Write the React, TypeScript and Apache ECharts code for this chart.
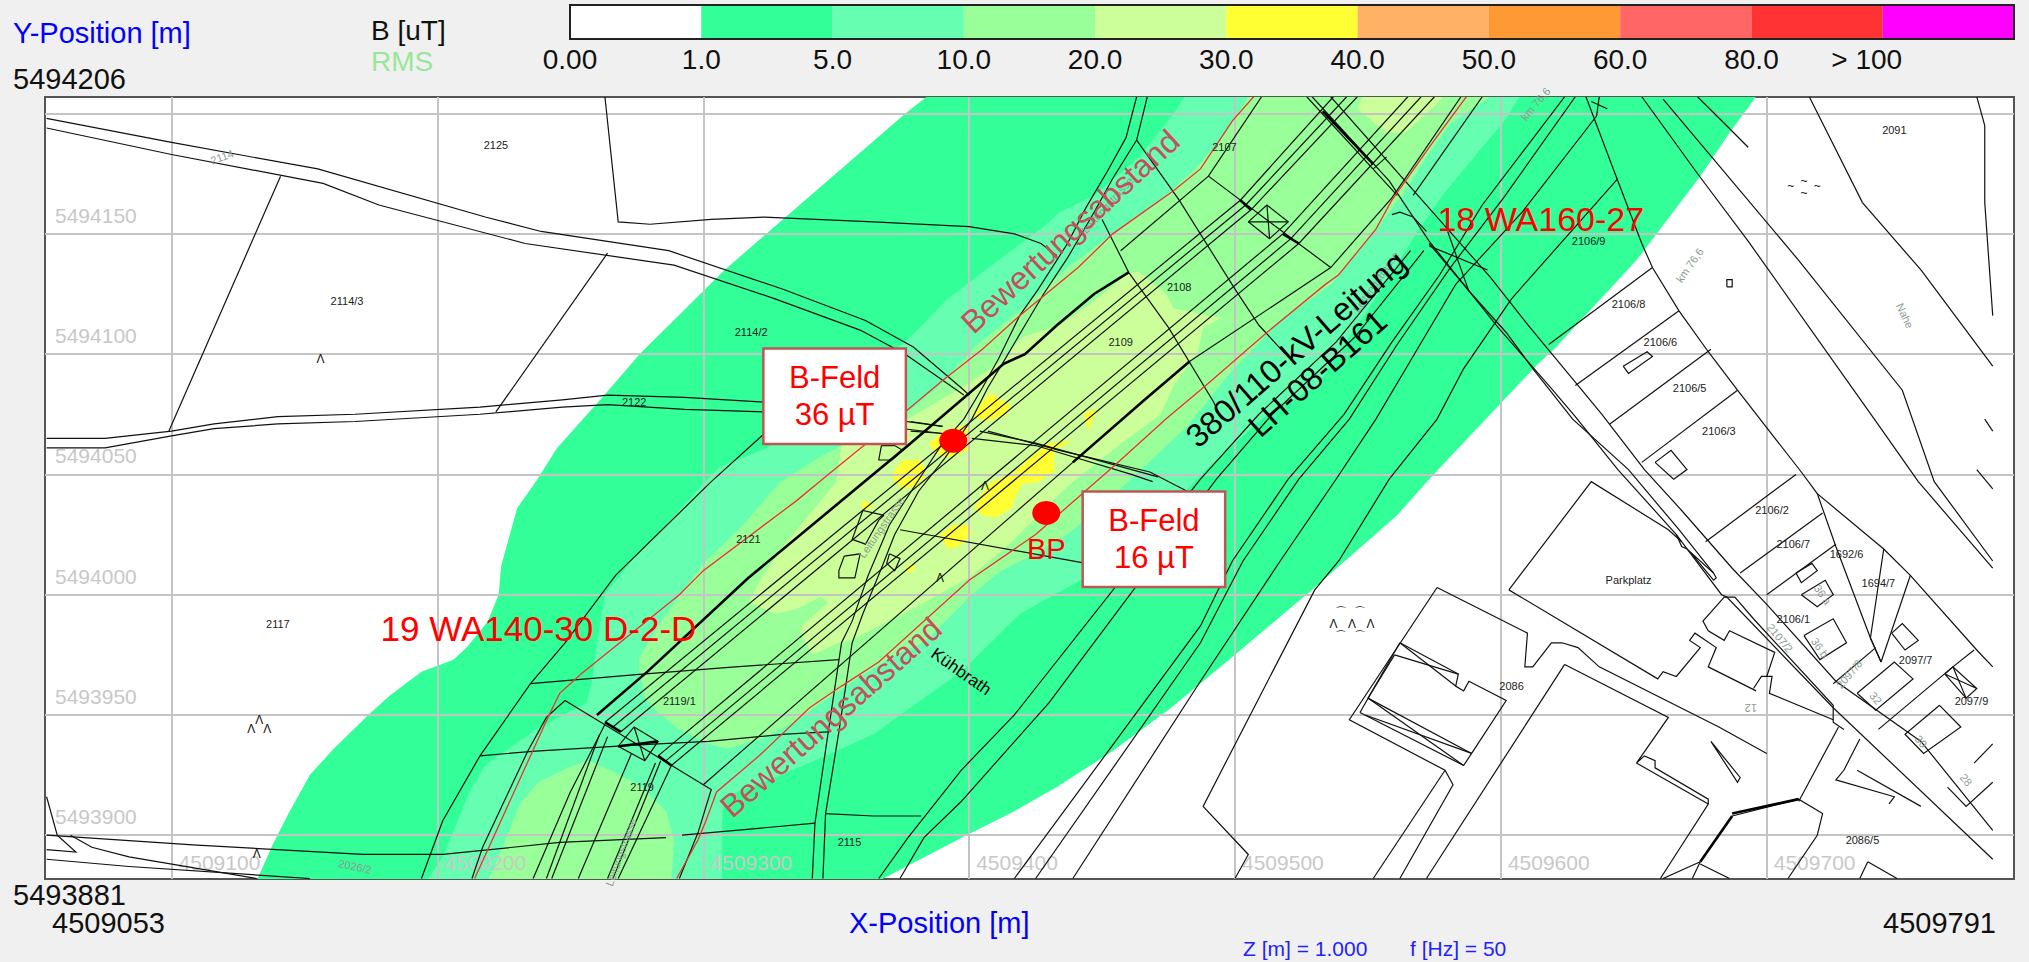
import React, { useEffect, useRef } from "react";
import * as echarts from "echarts";

type P = [number, number];
const FONT = "'Liberation Sans', Arial, sans-serif";
// All map coordinates are metres east of xBase / north of yBase.
const xBase = 4509000;
const yBase = 5493800;
const xMin = 4509052.4;
const xMax = 4509793;
const yMin = 5493881.8;
const yMax = 5494206.9;
const xGridValues = [4509100, 4509200, 4509300, 4509400, 4509500, 4509600, 4509700];
const yGridValues = [5493900, 5493950, 5494000, 5494050, 5494100, 5494150, 5494200];
const yLabelValues = [5493900, 5493950, 5494000, 5494050, 5494100, 5494150];

const legendLabels = ["0.00", "1.0", "5.0", "10.0", "20.0", "30.0", "40.0", "50.0", "60.0", "80.0", "> 100"];
const legendColors = ["#ffffff", "#33ff99", "#66ffb2", "#99ff99", "#ccff99", "#ffff33", "#ffb266", "#ff9933", "#ff6666", "#ff3333", "#ff00ff"];

const band1: P[][] = [[
  [384, 407], [376, 400], [331, 357], [308, 335], [276, 300], [262, 282], [245, 261], [237, 247], [230, 236], [224, 212], [223, 200], [219, 189], [211, 178], [206, 173], [194, 168], [182, 158], [174, 150], [161, 136], [152, 125], [144, 109], [138, 96], [132, 81],
  [366, 81], [399, 100], [417, 110], [433, 120], [454, 135], [476, 153], [500, 175], [530, 203], [561, 233], [573, 248], [614, 296], [620, 302], [651, 339], [675, 374], [686, 392], [696, 407],
]];
const band5: P[][] = [[
  [481, 407], [477, 400], [464, 382], [447, 366], [434, 359], [428, 353], [417, 344], [405, 334], [392, 323], [376, 305], [350, 285], [324, 261], [306, 253], [300, 246], [286, 229], [273, 214], [263, 200], [260, 180], [258, 163], [256, 155], [237, 144], [218, 129], [212, 118], [208, 107], [202, 91], [196, 81],
  [307, 81], [307, 105], [308, 116], [327, 124], [346, 133], [364, 142], [383, 157], [397, 168], [419, 192], [442, 206], [470, 230], [490, 253], [510, 273], [531, 287], [546, 312], [558, 332], [568, 350], [578, 366], [593, 386], [602, 398], [607, 407],
]];
const band10: P[][] = [
  [[505, 407], [496, 391], [485, 377], [474, 366], [454, 350], [437, 336], [421, 320], [403, 304], [389, 287], [377, 276], [345, 258], [329, 247], [315, 229], [300, 213], [286, 192], [276, 174], [276, 169], [278, 157], [283, 151], [291, 144], [302, 138], [309, 136], [322, 140], [334, 147], [343, 154], [359, 166], [374, 176], [383, 180], [400, 199], [412, 210], [425, 217], [437, 225], [456, 243], [482, 270], [498, 292], [517, 314], [536, 329], [539, 333], [563, 366], [572, 382], [581, 396], [596, 407]],
  [[219, 81], [226, 99], [231, 113], [238, 122], [249, 128], [257, 131], [267, 126], [277, 120], [286, 110], [289, 98], [288, 81]],
];
const band20: P[][] = [
  [[377, 273], [352, 262], [350, 247], [330, 220], [322, 207], [317, 197], [327, 192], [335, 194], [344, 199], [347, 197], [337, 187], [337, 183], [341, 175], [351, 180], [355, 181], [375, 192], [400, 207], [415, 221], [437, 245], [455, 261], [472, 275], [477, 287], [486, 301], [488, 311], [495, 315], [491, 316], [477, 319], [474, 325], [464, 334], [460, 334], [447, 322], [434, 312], [420, 307], [411, 296], [397, 286]],
  [[548, 407], [546, 402], [557, 392], [564, 392], [576, 404], [578, 407]],
];
const band30: P[][] = [
  [[385, 263], [390, 268], [400, 271], [400, 260], [392, 257], [387, 259]],
  [[401, 275], [408, 284], [415, 279], [416, 280], [414, 275], [407, 272], [402, 274]],
  [[371, 250], [375, 256], [382, 256], [384, 250], [380, 245], [375, 244], [372, 247]],
  [[402, 236], [407, 246], [417, 251], [424, 258], [430, 263], [439, 264], [432, 260], [432, 251], [426, 247], [420, 246], [417, 240], [416, 236], [410, 232], [405, 233]],
  [[389, 225], [394, 229], [400, 229], [401, 225], [396, 220], [392, 219]],
  [[359, 238], [361, 239], [364, 237], [361, 235]],
  [[443, 275], [446, 277], [448, 276], [446, 272], [445, 268], [444, 271]],
  [[376, 211], [378, 213], [380, 211], [377, 209]],
];

const redLines: P[][] = [
  [[507, 407], [499, 397], [487, 377], [477, 368], [454, 350], [441, 336], [419, 316], [405, 302], [390, 289], [377, 277], [347, 250], [335, 239], [300, 210], [291, 200], [254, 167], [246, 159], [242, 150], [214, 82]],
  [[587, 407], [573, 386], [559, 364], [553, 352], [539, 333], [534, 329], [512, 309], [489, 287], [474, 273], [455, 254], [425, 225], [400, 206], [366, 172], [352, 162], [340, 153], [321, 133], [305, 118], [301, 106], [298, 98], [290, 82]],
];

const thickLines: P[][] = [
  [[460, 334], [447, 325], [433, 312], [421, 300], [413, 296], [377, 262], [317, 207], [279, 168], [260, 150]],
  [[483, 297], [466, 281], [439, 255]],
  [[533, 401], [552, 379]],
  [[502, 364], [506, 360]], [[518, 350], [524, 346]],
  [[263, 147], [269, 143]], [[283, 133], [288, 129]],
  [[268, 137], [276, 138], [283, 139]],
  [[687, 109], [712, 115]],
  [[687, 108], [675, 89]],
];

const conductorLines: P[][] = [
  [[263, 147], [502, 364], [537, 407]],
  [[266, 145], [504, 362], [542, 407]],
  [[269, 143], [506, 360], [546, 407]],
  [[283, 133], [518, 350], [565, 407]],
  [[286, 131], [521, 348], [570, 407]],
  [[288, 129], [524, 346], [575, 407]],
  [[300, 121], [439, 255]],
  [[483, 297], [536, 336], [559, 365], [585, 407]],
  [[567, 366], [593, 407]],
  [[457, 343], [490, 374], [510, 407]],
  [[536, 336], [490, 374]],
  [[248, 156], [300, 121], [303, 119], [298, 101], [291, 82]],
  [[505, 355], [512, 362], [520, 355], [513, 348], [505, 355]],
  [[512, 362], [513, 348]], [[505, 355], [520, 355]],
  [[274, 145], [283, 139], [278, 131], [268, 137], [274, 145]],
  [[274, 145], [278, 131]],
  [[261, 142], [241, 82]], [[264, 141], [243, 82]], [[263, 146], [250, 118], [236, 82]],
  [[273, 134], [253, 82]], [[282, 130], [264, 82]], [[284, 131], [266, 82]], [[288, 129], [268, 82]],
];

const roadLines: P[][] = [
  [[53, 398], [100, 388], [155, 377], [218, 357], [239, 351], [287, 343], [330, 327], [361, 314], [379, 303], [397, 286], [400, 283]],
  [[53, 394], [100, 383], [157, 371], [178, 362], [233, 346], [289, 337], [327, 323], [359, 310], [376, 300], [398, 283]],
  [[263, 407], [268, 355], [280, 354], [303, 356], [323, 357], [364, 355], [400, 353], [417, 350], [427, 346], [433, 341]],
  [[463, 407], [459, 390], [452, 376], [444, 361], [437, 346], [426, 327], [419, 316], [411, 298], [405, 286], [398, 273], [390, 263], [380, 246], [370, 229], [362, 208], [356, 189], [352, 180], [347, 143], [342, 105], [341, 82]],
  [[467, 407], [463, 389], [454, 373], [447, 359], [437, 340], [428, 325], [421, 312], [413, 297], [407, 286], [401, 273], [391, 257], [381, 243], [372, 225], [367, 211], [360, 192], [356, 180], [351, 143], [346, 109], [345, 82]],
  [[463, 389], [479, 364], [500, 327], [509, 312], [519, 300]],
  [[450, 356], [460, 334], [475, 311], [492, 280], [495, 273]],
  [[53, 265], [75, 265], [100, 268], [116, 271], [140, 274], [169, 275], [216, 278], [247, 281], [264, 283], [293, 282], [323, 280], [390, 270]],
  [[53, 261], [75, 261], [100, 266], [116, 269], [140, 271], [169, 272], [216, 275], [247, 278], [264, 279], [293, 277], [323, 276], [390, 267]],
  [[141, 374], [99, 268]], [[264, 342], [222, 276]],
  [[235, 163], [277, 167], [312, 170], [351, 173]],
  [[216, 133], [237, 135], [268, 137], [283, 138], [302, 139], [331, 142], [347, 143]],
  [[53, 100], [108, 96], [172, 92], [194, 92], [202, 92], [246, 97], [286, 99]],
  [[292, 100], [342, 105]],
  [[346, 109], [364, 108], [382, 108]],
  [[248, 180], [235, 163], [216, 133], [202, 106], [194, 82]],
  [[323, 267], [303, 247], [267, 208], [248, 180]],
  [[248, 156], [241, 149], [234, 135], [217, 95], [213, 82]],
  [[374, 227], [444, 213]],
  [[368, 233], [360, 235], [356, 223], [361, 221], [366, 231], [368, 233]],
  [[353, 216], [359, 217], [357, 207], [351, 207], [351, 210], [353, 216]],
  [[370, 217], [374, 215], [372, 210], [369, 213], [370, 217]],
  [[367, 262], [372, 262], [375, 260], [371, 256], [366, 256], [367, 262]],
  [[404, 268], [425, 263], [471, 249]],
  [[407, 268], [434, 260], [468, 251], [482, 243]],
  [[401, 265], [425, 262], [461, 250], [469, 247]],
  [[378, 272], [390, 270]], [[378, 268], [390, 267]],
  [[53, 116], [57, 100], [64, 93], [53, 94]],
  [[62, 100], [70, 95], [84, 91], [132, 82]],
  [[53, 90], [84, 87], [152, 82]],
  [[536, 407], [576, 357], [596, 332], [611, 311], [629, 287], [638, 275], [654, 252], [668, 235], [687, 211], [700, 196], [726, 164], [758, 139], [785, 102]],
  [[529, 407], [558, 372], [573, 347], [599, 311], [618, 287], [628, 274], [644, 252], [666, 225], [683, 200], [685, 199], [725, 153], [785, 90]],
  [[573, 346], [589, 325], [602, 309], [612, 294], [627, 273], [648, 252], [667, 227], [680, 209]],
  [[666, 225], [668, 220], [670, 219], [680, 209], [681, 207], [680, 206], [671, 218]],
  [[527, 407], [561, 366]],
  [[573, 345], [595, 335]], [[580, 351], [588, 326]],
  [[559, 358], [562, 359], [567, 357], [572, 351]],
  [[552, 377], [557, 382]],
  [[636, 399], [608, 359], [583, 329], [568, 301], [553, 273], [538, 248], [517, 214], [487, 164], [439, 82]],
  [[628, 407], [601, 365], [581, 336], [561, 304], [543, 273], [524, 248], [503, 214], [487, 180], [425, 82]],
  [[624, 407], [593, 362], [577, 333], [559, 305], [541, 275], [520, 248], [499, 214], [487, 187], [417, 82]],
  [[644, 373], [604, 323], [586, 294], [576, 273], [558, 248], [539, 214], [530, 202], [488, 112], [505, 92], [500, 82]],
  [[566, 343], [538, 305], [509, 275], [487, 248], [417, 150], [397, 127], [377, 99], [366, 82]],
  [[571, 343], [545, 307], [514, 275], [493, 248], [430, 155], [397, 114], [383, 99], [374, 82]],
  [[632, 407], [644, 372], [653, 346], [657, 336], [667, 318], [678, 301], [689, 285], [713, 251], [719, 242], [726, 220], [739, 182], [743, 172]],
  [[719, 242], [744, 219], [754, 208], [779, 177], [785, 170]],
  [[744, 219], [739, 182]], [[754, 208], [743, 172]], [[739, 182], [743, 172]],
  [[637, 407], [636, 399]], [[634, 405], [640, 402]],
  [[618, 304], [657, 336]], [[628, 287], [667, 318]], [[641, 271], [679, 302]], [[653, 255], [689, 285]],
  [[646, 295], [655, 301], [657, 299], [648, 292], [646, 295]],
  [[685, 328], [687, 328], [687, 331], [685, 331], [685, 328]],
  [[658, 255], [664, 260], [670, 252], [665, 248], [658, 255]],
  [[653, 407], [674, 375], [693, 347], [743, 269], [757, 247], [785, 211]],
  [[661, 406], [712, 339], [751, 285], [763, 247], [785, 214]],
  [[779, 252], [785, 244]],
  [[684, 396], [693, 386]], [[674, 407], [684, 396]],
  [[716, 407], [736, 363], [758, 335], [785, 295]],
  [[779, 407], [782, 395], [782, 363], [785, 316]],
  [[782, 273], [785, 268]],
  [[677, 222], [711, 250]], [[690, 209], [721, 234]], [[700, 200], [726, 221]],
  [[725, 163], [741, 178]],
  [[778, 177], [770, 170], [742, 144]],
  [[711, 209], [717, 213], [719, 210], [713, 205], [711, 209]],
  [[713, 200], [722, 206], [725, 200], [719, 195], [713, 200]],
  [[714, 183], [725, 190], [730, 180], [720, 173], [714, 183]],
  [[747, 184], [751, 188], [757, 181], [752, 177], [747, 184]],
  [[734, 159], [748, 172], [755, 165], [741, 152], [734, 159]],
  [[767, 167], [770, 170], [779, 161], [775, 157], [767, 167], [779, 161]],
  [[770, 170], [775, 157]],
  [[603, 202], [634, 247], [663, 227], [668, 222]],
  [[603, 202], [659, 165], [661, 168], [666, 166], [675, 178], [671, 181], [673, 184], [681, 178], [678, 170], [696, 160]],
  [[576, 203], [610, 184], [609, 170], [612, 170], [619, 180], [623, 180], [629, 178], [637, 170], [682, 145], [700, 134]],
  [[576, 203], [543, 148], [579, 127], [582, 121], [562, 82]],
  [[579, 127], [552, 82]],
  [[562, 180], [584, 167], [583, 162], [586, 160], [588, 164], [602, 156], [589, 134], [586, 129]],
  [[562, 180], [583, 162]], [[560, 175], [584, 167]],
  [[550, 157], [589, 134]], [[547, 151], [586, 129]], [[550, 157], [586, 129]], [[549, 150], [589, 134]],
  [[562, 180], [547, 151]], [[560, 175], [550, 157]],
  [[624, 171], [663, 149], [651, 130], [654, 133], [658, 131], [658, 128], [678, 115], [678, 113], [660, 82]],
  [[651, 130], [678, 113]],
  [[624, 171], [572, 82]],
  [[679, 139], [690, 124], [689, 122], [679, 139]],
  [[687, 108], [712, 115], [721, 109], [719, 100], [708, 82]],
  [[675, 89], [661, 82]], [[675, 88], [686, 82]], [[672, 82], [675, 89]],
  [[712, 114], [727, 145]],
  [[684, 199], [688, 199], [695, 190], [725, 154], [725, 147], [729, 144]],
  [[684, 199], [676, 189], [678, 185], [684, 181], [686, 185], [703, 176], [700, 166]],
  [[695, 161], [698, 166], [702, 166], [701, 159], [725, 148]],
  [[735, 140], [729, 127], [726, 123], [748, 116], [746, 113]],
  [[734, 127], [758, 112]],
  [[765, 154], [773, 145], [759, 134], [752, 142], [765, 154]],
  [[778, 130], [785, 138]], [[768, 120], [775, 112], [785, 122]],
  [[738, 89], [749, 82]], [[738, 89], [735, 82]],
];

const parcelLabels: [string, number, number][] = [
  ["2125", 222, 387], ["2114/3", 166, 322], ["2114/2", 318, 309], ["2122", 274, 280], ["2107", 496, 386], ["2108", 479, 328], ["2109", 457, 305],
  ["2106/9", 633, 347], ["2106/8", 648, 321], ["2106/6", 660, 305], ["2106/5", 671, 286], ["2106/3", 682, 268], ["2091", 748, 393], ["2106/2", 702, 235],
  ["2106/7", 710, 221], ["1692/6", 730, 217], ["1694/7", 742, 205], ["2106/1", 710, 190], ["Parkplatz", 648, 206], ["2097/7", 756, 173], ["2097/9", 777, 156],
  ["2086", 604, 162], ["2086/5", 736, 98], ["2117", 140, 188], ["2121", 317, 223], ["2119/1", 291, 156], ["2119", 277, 120], ["2115", 355, 97],
];
const greyLabels: [string, number, number, number][] = [
  ["2107/2", 705, 182, -50], ["36 b", 720, 178, -55], ["36 a", 721, 200, -55], ["32", 741, 157, -50], ["2097/8", 731, 167, 50], ["30", 758, 139, -50], ["28", 775, 123, -50], ["12", 694, 153, 180],
  ["km 76,6", 671, 337, 55], ["km 76,6", 613, 404, 50], ["Nahe", 752, 316, -65], ["2026/2", 169, 87, -12], ["2114", 119, 382, 20], ["Leitungstrasse", 452, 362, 48], ["Leitungstrasse", 553, 330, 55], ["Leitungstrasse", 367, 228, 55], ["Leitungstrasse", 269, 93, 70],
];
const terrainMarks: [string, number, number][] = [
  ["Λ", 156, 298], ["Λ", 133, 148], ["Λ", 130, 144], ["Λ", 136, 144], ["Λ", 132, 92], ["Λ", 389, 207], ["Λ", 406, 245], ["Λ", 537, 188], ["Λ", 544, 188], ["Λ", 551, 188],
  ["⌒", 540, 193], ["⌒", 547, 193], ["⌒", 540, 183], ["⌒", 547, 183], ["~", 714, 372], ["~", 709, 370], ["~", 719, 370], ["~", 714, 367],
];
const annotationLabels: [string, number, number, number, string, number][] = [
  ["Bewertungsabstand", 438, 351, 42.5, "#c4505a", 32],
  ["Bewertungsabstand", 348, 149, 41.5, "#c4505a", 32],
  ["380/110-kV-Leitung", 523, 302, 41, "#000000", 32.5],
  ["LH-08-B161", 531, 292, 41.5, "#000000", 32],
  ["18 WA160-27", 615, 356, 0, "#ff0000", 34],
  ["19 WA140-30 D-2-D", 238, 186, 0, "#ff0000", 35],
  ["BP", 429, 219, 0, "#ff0000", 29],
  ["Kühbrath", 397, 168, -35, "#000000", 17],
];
const measurePoints: P[] = [[394, 264], [429, 234]];
const callouts: [string, number, number][] = [["B-Feld\n36 µT", 349.4, 282.5], ["B-Feld\n16 µT", 469.5, 223]];

const toData = (q: P): P => [xBase + q[0], yBase + q[1]];

const polygonSeries = (name: string, polys: P[][], color: string, z: number) => ({
  type: "custom", name, coordinateSystem: "cartesian2d", xAxisIndex: 0, yAxisIndex: 0, clip: true, silent: true, z,
  data: polys.map((poly) => toData(poly[0])),
  renderItem: (params: any, api: any) => ({
    type: "polygon",
    shape: { points: polys[params.dataIndex].map((q) => api.coord(toData(q))) },
    style: { fill: color },
  }),
});
const lineSeries = (name: string, lines: P[][], color: string, width: number, z: number) => ({
  type: "custom", name, coordinateSystem: "cartesian2d", xAxisIndex: 0, yAxisIndex: 0, clip: true, silent: true, z,
  data: lines.map((line) => toData(line[0])),
  renderItem: (params: any, api: any) => ({
    type: "polyline",
    shape: { points: lines[params.dataIndex].map((q) => api.coord(toData(q))) },
    style: { stroke: color, lineWidth: width, fill: "none" },
  }),
});
const labelSeries = (name: string, data: any[], z: number) => ({
  type: "scatter", name, xAxisIndex: 0, yAxisIndex: 0, symbolSize: 0, silent: true, z, data,
  itemStyle: { opacity: 1 },
  label: { show: true, position: "inside", fontFamily: FONT, textBorderWidth: 0 },
});
const topText = (text: string, x: number, y: number, size: number, fill: string, align = "left") => ({
  type: "text", x, y, silent: true,
  style: { text, fontSize: size, fontFamily: FONT, fill, align, verticalAlign: "middle" },
});

export default function App() {
  const ref = useRef<HTMLDivElement>(null);
  useEffect(() => {
    const chart = echarts.init(ref.current!, undefined, { renderer: "svg" });
    const axisLabel = { show: true, inside: true, color: "#c8c8c8", fontSize: 21, fontFamily: FONT };
    const splitLine = { show: true, lineStyle: { color: "#c4c4c4", width: 2 } };
    chart.setOption({
      animation: false,
      backgroundColor: "#f0f0f0",
      grid: [
        { left: 45, top: 97, width: 1969, height: 782, show: true, backgroundColor: "#ffffff", borderColor: "#555555", borderWidth: 2 },
        { left: 570, top: 5, width: 1444, height: 34, show: true, borderColor: "#222222", borderWidth: 2, z: 5 },
      ],
      xAxis: [
        {
          type: "value", gridIndex: 0, min: xMin, max: xMax, z: 1,
          axisLine: { show: false },
          axisTick: { show: false, customValues: xGridValues },
          axisLabel: { ...axisLabel, customValues: xGridValues, margin: 6, align: "left", verticalAlign: "bottom", padding: [0, 0, 0, 7], formatter: (v: number) => String(v) },
          splitLine,
        },
        {
          type: "value", gridIndex: 1, min: 0, max: legendColors.length,
          axisLine: { show: false }, splitLine: { show: false },
          axisTick: { show: false, customValues: legendLabels.map((_, i) => i) },
          axisLabel: {
            color: "#111111", fontSize: 28, fontFamily: FONT, margin: 6,
            customValues: legendLabels.map((_, i) => i),
            formatter: (v: number) => (v === 10 ? "{far|" + legendLabels[v] + "}" : legendLabels[v]),
            rich: { far: { fontSize: 28, fontFamily: FONT, color: "#111111", padding: [0, 32, 0, 0] } },
          },
        },
      ],
      yAxis: [
        {
          type: "value", gridIndex: 0, min: yMin, max: yMax, z: 1,
          axisLine: { show: false },
          axisTick: { show: false, customValues: yGridValues },
          axisLabel: { ...axisLabel, customValues: yLabelValues, margin: 10, align: "left", verticalAlign: "bottom", padding: [0, 0, 8, 0], formatter: (v: number) => String(v) },
          splitLine,
        },
        { type: "category", gridIndex: 1, data: ["B [uT]"], axisLine: { show: false }, axisTick: { show: false }, axisLabel: { show: false } },
      ],
      series: [
        polygonSeries("1.0", band1, legendColors[1], 0),
        polygonSeries("5.0", band5, legendColors[2], 0),
        polygonSeries("10.0", band10, legendColors[3], 0),
        polygonSeries("20.0", band20, legendColors[4], 0),
        polygonSeries("30.0", band30, legendColors[5], 0),
        lineSeries("conductors", conductorLines, "#111111", 1.2, 3),
        lineSeries("parcels", roadLines, "#111111", 1.2, 3),
        lineSeries("thick", thickLines, "#000000", 2.6, 3),
        lineSeries("limits", redLines, "#f03030", 1.3, 4),
        labelSeries("parcel labels", parcelLabels.map(([text, x, y]) => ({ value: toData([x, y]), label: { formatter: text, fontSize: 11, color: "#222222" } })), 5),
        labelSeries("grey labels", greyLabels.map(([text, x, y, rotate]) => ({ value: toData([x, y]), label: { formatter: text, rotate, fontSize: 11, color: "#8d9c93" } })), 5),
        labelSeries("terrain", terrainMarks.map(([text, x, y]) => ({ value: toData([x, y]), label: { formatter: text, fontSize: 12, color: "#111111" } })), 5),
        labelSeries("annotations", annotationLabels.map(([text, x, y, rotate, color, size]) => ({ value: toData([x, y]), label: { formatter: text, rotate, color, fontSize: size } })), 6),
        {
          type: "scatter", name: "measure points", xAxisIndex: 0, yAxisIndex: 0, symbol: "circle", symbolSize: [28, 24], z: 7, silent: true,
          itemStyle: { color: "#ff0000", opacity: 1 }, data: measurePoints.map(toData),
        },
        labelSeries("callouts", callouts.map(([text, x, y]) => ({
          value: toData([x, y]),
          label: { formatter: text, width: 140, height: 93, lineHeight: 37, align: "center", verticalAlign: "middle", fontSize: 31, color: "#ff0000", backgroundColor: "#ffffff", borderColor: "#c05555", borderWidth: 2.5, textBorderWidth: 0 },
        })), 8),
        ...legendColors.map((color, i) => ({
          type: "bar", name: legendLabels[i], xAxisIndex: 1, yAxisIndex: 1, stack: "scale", barWidth: "100%", silent: true, z: 2,
          itemStyle: { color }, data: [1],
        })),
      ],
      graphic: [
        topText("Y-Position [m]", 13, 33, 29, "#0000ff"),
        topText("5494206", 13, 79, 29, "#111111"),
        topText("B [uT]", 371, 30, 28, "#111111"),
        topText("RMS", 371, 61, 28, "#99e699"),
        topText("5493881", 13, 895, 29, "#111111"),
        topText("4509053", 52, 923, 29, "#111111"),
        topText("X-Position [m]", 849, 923, 29, "#0000ff"),
        topText("4509791", 1996, 923, 29, "#111111", "right"),
        topText("Z [m] = 1.000", 1243, 948, 21, "#2222ff"),
        topText("f [Hz] = 50", 1410, 948, 21, "#2222ff"),
      ],
    });
    return () => chart.dispose();
  }, []);
  return <div ref={ref} style={{ position: "absolute", left: 0, top: 0, width: 2029, height: 962 }} />;
}
